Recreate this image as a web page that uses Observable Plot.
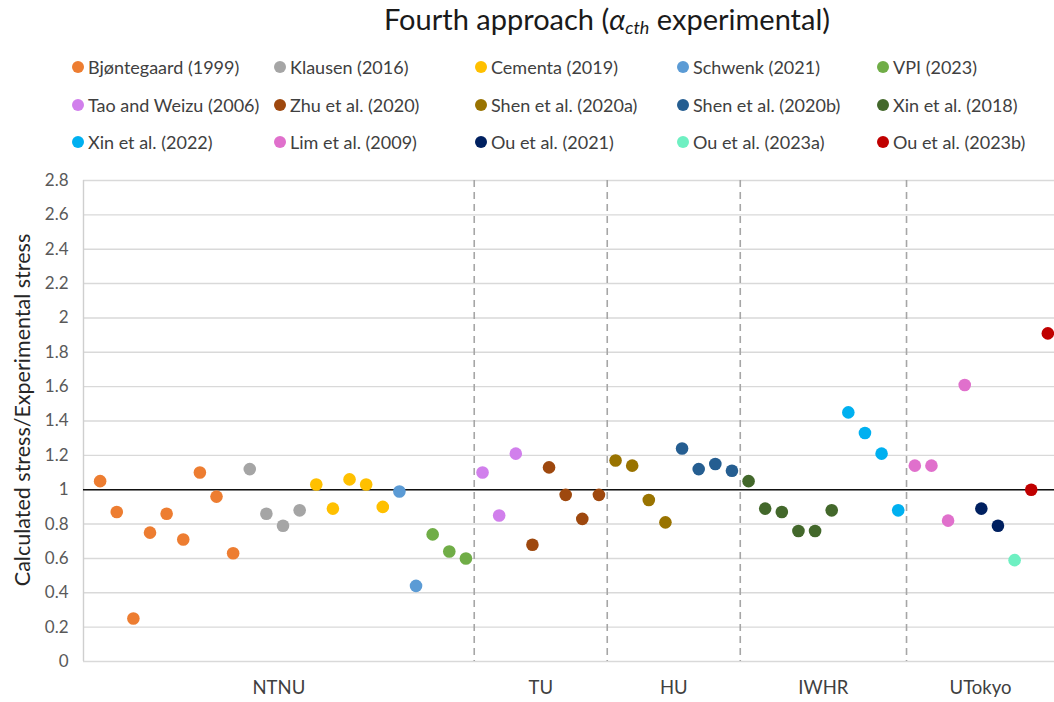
<!DOCTYPE html>
<html>
<head>
<meta charset="utf-8">
<script src="https://cdn.jsdelivr.net/npm/d3@7"></script>
<script src="https://cdn.jsdelivr.net/npm/@observablehq/plot@0.6"></script>
<style>
  html, body { margin: 0; padding: 0; background: #fff; }
  #wrap { position: relative; width: 1054px; height: 702px; font-family: Lato, "Open Sans", sans-serif; overflow: hidden; }
  #title { position: absolute; left: 0; width: 1214px; top: 2px; line-height: 34px; text-align: center; font-size: 29px; color: #1a1a1a; white-space: nowrap; }
  #title sub { font-size: 18px; vertical-align: -4px; line-height: 0; }
  .item { position: absolute; display: flex; align-items: center; font-size: 18px; color: #404040; white-space: nowrap; transform: translateY(-50%); }
  .sw { width: 12px; height: 12px; border-radius: 50%; margin-right: 4px; flex: none; }
  #chart { position: absolute; left: 0; top: 165px; }
</style>
</head>
<body>
<div id="wrap">
  <div id="title">Fourth approach (<i>α</i><sub><i>cth</i></sub> experimental)</div>
  <div id="legend"></div>
  <div id="chart"></div>
</div>
<script>
// ---- Data ----
const seriesNames = [
  "Bjøntegaard (1999)", "Klausen (2016)", "Cementa (2019)", "Schwenk (2021)", "VPI (2023)",
  "Tao and Weizu (2006)", "Zhu et al. (2020)", "Shen et al. (2020a)", "Shen et al. (2020b)", "Xin et al. (2018)",
  "Xin et al. (2022)", "Lim et al. (2009)", "Ou et al. (2021)", "Ou et al. (2023a)", "Ou et al. (2023b)"
];
const seriesColors = [
  "#ED7D31", "#A5A5A5", "#FFC000", "#5B9BD5", "#70AD47",
  "#D17FEC", "#9E480E", "#997300", "#255E91", "#43682B",
  "#00B0F0", "#E070CC", "#002060", "#6EF0C2", "#C00000"
];
const groupLabels = ["NTNU", "TU", "HU", "IWHR", "UTokyo"];
const seriesGroup = [0, 0, 0, 0, 0, 1, 1, 2, 2, 3, 3, 4, 4, 4, 4];

const bjontegaard = [1.05, 0.87, 0.25, 0.75, 0.86, 0.71, 1.10, 0.96, 0.63];
const klausen = [1.12, 0.86, 0.79, 0.88];
const cementa = [1.03, 0.89, 1.06, 1.03, 0.90];
const schwenk = [0.99, 0.44];
const vpi = [0.74, 0.64, 0.60];
const tao = [1.10, 0.85, 1.21];
const zhu = [0.68, 1.13, 0.97, 0.83, 0.97];
const shenA = [1.17, 1.14, 0.94, 0.81];
const shenB = [1.24, 1.12, 1.15, 1.11];
const xin2018 = [1.05, 0.89, 0.87, 0.76, 0.76, 0.88];
const xin2022 = [1.45, 1.33, 1.21, 0.88];
const lim = [1.14, 1.14, 0.82, 1.61];
const ou2021 = [0.89, 0.79];
const ou2023a = [0.59];
const ou2023b = [1.00, 1.91];

const yTicks = [0, 0.2, 0.4, 0.6, 0.8, 1, 1.2, 1.4, 1.6, 1.8, 2, 2.2, 2.4, 2.6, 2.8];
const yLabel = "Calculated stress/Experimental stress";

// ---- Build table ----
const seriesValues = [bjontegaard, klausen, cementa, schwenk, vpi, tao, zhu, shenA, shenB, xin2018, xin2022, lim, ou2021, ou2023a, ou2023b];
const points = [];
let idx = 0;
seriesValues.forEach((vals, s) => {
  vals.forEach(v => { idx += 1; points.push({i: idx, value: v, series: seriesNames[s], group: seriesGroup[s]}); });
});
const xMax = idx + 0.4;
// group boundaries
const groupCounts = groupLabels.map((_, g) => points.filter(p => p.group === g).length);
const bounds = [0];
let acc = 0;
groupCounts.forEach(c => { acc += c; bounds.push(acc + 0.5); });
bounds[bounds.length - 1] = xMax;
const dividers = bounds.slice(1, -1);
const groupTable = groupLabels.map((label, g) => ({label, x: (bounds[g] + bounds[g + 1]) / 2}));

// ---- Legend ----
const colX = [78, 280, 481, 683, 883];
const rowY = [67, 104.5, 142];
const legend = document.getElementById("legend");
seriesNames.forEach((name, k) => {
  const el = document.createElement("div");
  el.className = "item";
  el.style.left = (colX[k % 5] - 6) + "px";
  el.style.top = rowY[Math.floor(k / 5)] + "px";
  el.innerHTML = `<span class="sw" style="background:${seriesColors[k]}"></span><span>${name}</span>`;
  legend.appendChild(el);
});

// ---- Chart ----
const chart = Plot.plot({
  width: 1054,
  height: 537,
  marginTop: 15,
  marginBottom: 41,
  marginLeft: 83,
  marginRight: 0,
  style: {fontFamily: "Lato, 'Open Sans', sans-serif", background: "#fff"},
  x: {type: "linear", domain: [0, xMax], axis: null},
  y: {domain: [0, 2.8], axis: null},
  color: {domain: seriesNames, range: seriesColors},
  marks: [
    Plot.gridY(yTicks, {stroke: "#d9d9d9", strokeOpacity: 1, strokeWidth: 1.4}),
    Plot.ruleX([0], {stroke: "#cfcfcf", strokeWidth: 1.4}),
    Plot.ruleX(dividers, {stroke: "#a6a6a6", strokeWidth: 1.6, strokeDasharray: "7,5"}),
    Plot.ruleY([1], {stroke: "#111", strokeWidth: 1.6}),
    Plot.axisY({ticks: yTicks, tickSize: 0, tickPadding: 15, tickFormat: d => String(d), fontSize: 17, color: "#595959", label: null}),
    Plot.text([yLabel], {text: d => d, frameAnchor: "left", textAnchor: "middle", rotate: -90, dx: -60, dy: -11, fontSize: 21.5, fill: "#262626"}),
    Plot.dot(points, {x: "i", y: "value", fill: "series", r: 6.3, stroke: "none"}),
    Plot.text(groupTable, {x: "x", text: "label", frameAnchor: "bottom", dy: 32, fontSize: 18.5, fill: "#404040"})
  ]
});
document.getElementById("chart").appendChild(chart);
</script>
</body>
</html>
